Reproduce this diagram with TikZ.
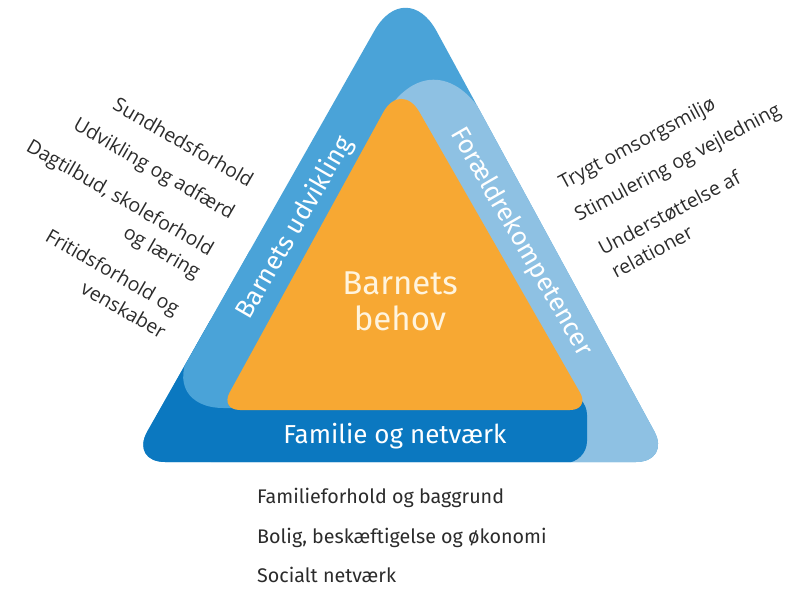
\documentclass[tikz,border=0pt]{standalone}
\usepackage{fontspec}
\setmainfont{Fira Sans}
\newfontfamily\sidefont{Open Sans}
\usetikzlibrary{calc}
\definecolor{midblue}{HTML}{4AA3D8}
\definecolor{darkblue}{HTML}{0B78C0}
\definecolor{lightblue}{HTML}{8EC1E3}
\definecolor{orangefill}{HTML}{F7A833}
\definecolor{cream}{HTML}{FFF4DE}
\definecolor{textgray}{HTML}{2B2B2B}
% rounded corner: prev, vertex, next, radius, 0.4477*radius
\newcommand\rcorner[5]{-- ($(#2)!#4pt!(#1)$) .. controls ($(#2)!#5pt!(#1)$) and ($(#2)!#5pt!(#3)$) .. ($(#2)!#4pt!(#3)$)}
\newcommand\outerpath{($(oL)!0.5!(oR)$) \rcorner{oL}{oR}{oA}{35}{15.67} \rcorner{oR}{oA}{oL}{64}{28.65} \rcorner{oA}{oL}{oR}{35}{15.67} -- cycle}
\tikzset{
  sidelbl/.style={inner sep=0pt, font=\sidefont\fontsize{19.5}{24}\selectfont, text=textgray},
  botlbl/.style={inner sep=0pt, anchor=base west, font=\fontsize{19.7}{24}\selectfont, text=textgray},
  bandlbl/.style={inner sep=0pt, font=\fontsize{26}{30}\selectfont, text=white}
}
\begin{document}
\begin{tikzpicture}[x=1pt,y=-1pt]
\useasboundingbox (0,0) rectangle (803,591);
% outer triangle
\coordinate (oA) at (406,-25);
\coordinate (oL) at (130,462);
\coordinate (oR) at (671,462);
\fill[midblue] \outerpath;
\begin{scope}
\clip \outerpath;
% light blue triangle (Foraeldrekompetencer)
\coordinate (lA) at (432,20);
\coordinate (lL) at (182,520);
\coordinate (lR) at (704,520);
\fill[lightblue] (lL) \rcorner{lL}{lA}{lR}{115}{51.5} -- (lR) -- cycle;
% dark blue band (Familie og netvaerk)
\coordinate (dS) at (300,393);
\coordinate (dTR) at (587,393);
\coordinate (dBR) at (587,463);
\coordinate (dBL) at (100,463);
\fill[darkblue] (100,320) -- (300,320) -- (dS) \rcorner{dS}{dTR}{dBR}{22}{9.85} \rcorner{dTR}{dBR}{dBL}{22}{9.85} -- (dBL) -- cycle;
% mid blue overlay at lower-left corner
\coordinate (mS) at (300,408);
\coordinate (mK) at (158.6,408);
\coordinate (mE) at (248.2,250);
\fill[midblue] (300,250) -- (mS) \rcorner{mS}{mK}{mE}{65}{29.1} -- (mE) -- cycle;
\end{scope}
% orange triangle
\coordinate (cA) at (401,80);
\coordinate (cL) at (220,410);
\coordinate (cR) at (590,410);
\fill[orangefill] ($(cL)!0.5!(cR)$) \rcorner{cL}{cR}{cA}{20}{8.95} \rcorner{cR}{cA}{cL}{37}{16.56} \rcorner{cA}{cL}{cR}{20}{8.95} -- cycle;
% texts inside
\node[inner sep=0pt, align=center, font=\fontsize{33}{36}\selectfont, text=cream] (behov) at (400,301) {Barnets\\behov};
\node[bandlbl, rotate=60] (udv) at (295,228) {Barnets udvikling};
\node[bandlbl, rotate=-60] (komp) at (521,242) {Forældrekompetencer};
\node[bandlbl] (fam) at (395,436) {Familie og netværk};
% left labels
\node[sidelbl, anchor=base east, rotate=-30] (l1) at (248.4,187.8) {Sundhedsforhold};
\node[sidelbl, anchor=base east, rotate=-30] (l2) at (229.8,219.9) {Udvikling og adfærd};
\node[sidelbl, anchor=base east, rotate=-30] (l3) at (208.8,256.3) {Dagtilbud, skoleforhold};
\node[sidelbl, anchor=base east, rotate=-30] (l3b) at (195.6,279.2) {og læring};
\node[sidelbl, anchor=base east, rotate=-30] (l4) at (174.6,315.5) {Fritidsforhold og};
\node[sidelbl, anchor=base east, rotate=-30] (l4b) at (160.9,339.4) {venskaber};
% right labels
\node[sidelbl, anchor=base west, rotate=28] (r1) at (563.3,190) {Trygt omsorgsmiljø};
\node[sidelbl, anchor=base west, rotate=28] (r2) at (579,222) {Stimulering og vejledning};
\node[sidelbl, anchor=base west, rotate=28] (r3) at (603,256) {Understøttelse af};
\node[sidelbl, anchor=base west, rotate=28] (r3b) at (616,279) {relationer};
% bottom labels
\node[botlbl] (b1) at (257,503) {Familieforhold og baggrund};
\node[botlbl] (b2) at (257,543) {Bolig, beskæftigelse og økonomi};
\node[botlbl] (b3) at (257,582) {Socialt netværk};
\end{tikzpicture}
\end{document}
